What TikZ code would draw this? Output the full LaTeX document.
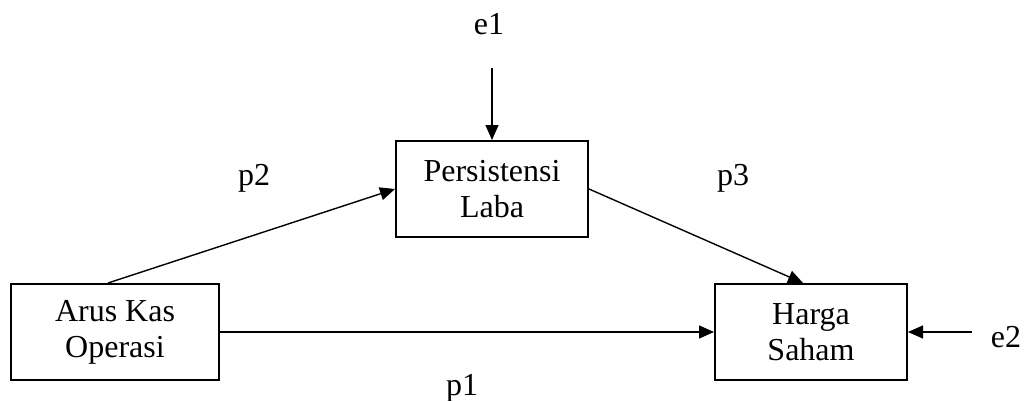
\documentclass[tikz,border=0pt]{standalone}
\usepackage{fontspec}
\setmainfont{Liberation Serif}
\usetikzlibrary{arrows.meta}
\begin{document}
\begin{tikzpicture}[x=1pt,y=-1pt,
  varbox/.style={draw,line width=2pt,inner sep=0pt,align=center,
    font=\fontsize{32}{36}\selectfont},
  lbl/.style={anchor=base,inner sep=0pt,font=\fontsize{32}{36}\selectfont},
  path/.style={line width=1.4pt,-{Triangle[length=15pt,width=13pt]}}]
\useasboundingbox (0,0) rectangle (1024,401);
% variables
\node[varbox,minimum width=208pt,minimum height=96pt] (arus) at (115,332) {Arus Kas\\Operasi};
\node[varbox,minimum width=192pt,minimum height=96pt] (pers) at (492,189) {Persistensi\\Laba};
\node[varbox,minimum width=192pt,minimum height=96pt] (harga) at (811,332) {Harga\\Saham};
% error terms
\node[lbl] (e1) at (489,35) {e1};
\node[lbl] (e2) at (1006,347) {e2};
\coordinate (e1s) at (492,68);
\coordinate (e2s) at (972,332);
% path coefficients
\node[lbl] (p1) at (462,395) {p1};
\node[lbl] (p2) at (254,185) {p2};
\node[lbl] (p3) at (733,185) {p3};
% paths
\draw[path] ([xshift=-7pt]arus.north) -- (pers.west);
\draw[path] (pers.east) -- ([xshift=-8pt]harga.north);
\draw[path] (arus.east) -- (harga.west);
\draw[path] (e1s) -- (pers.north);
\draw[path] (e2s) -- (harga.east);
\end{tikzpicture}
\end{document}
